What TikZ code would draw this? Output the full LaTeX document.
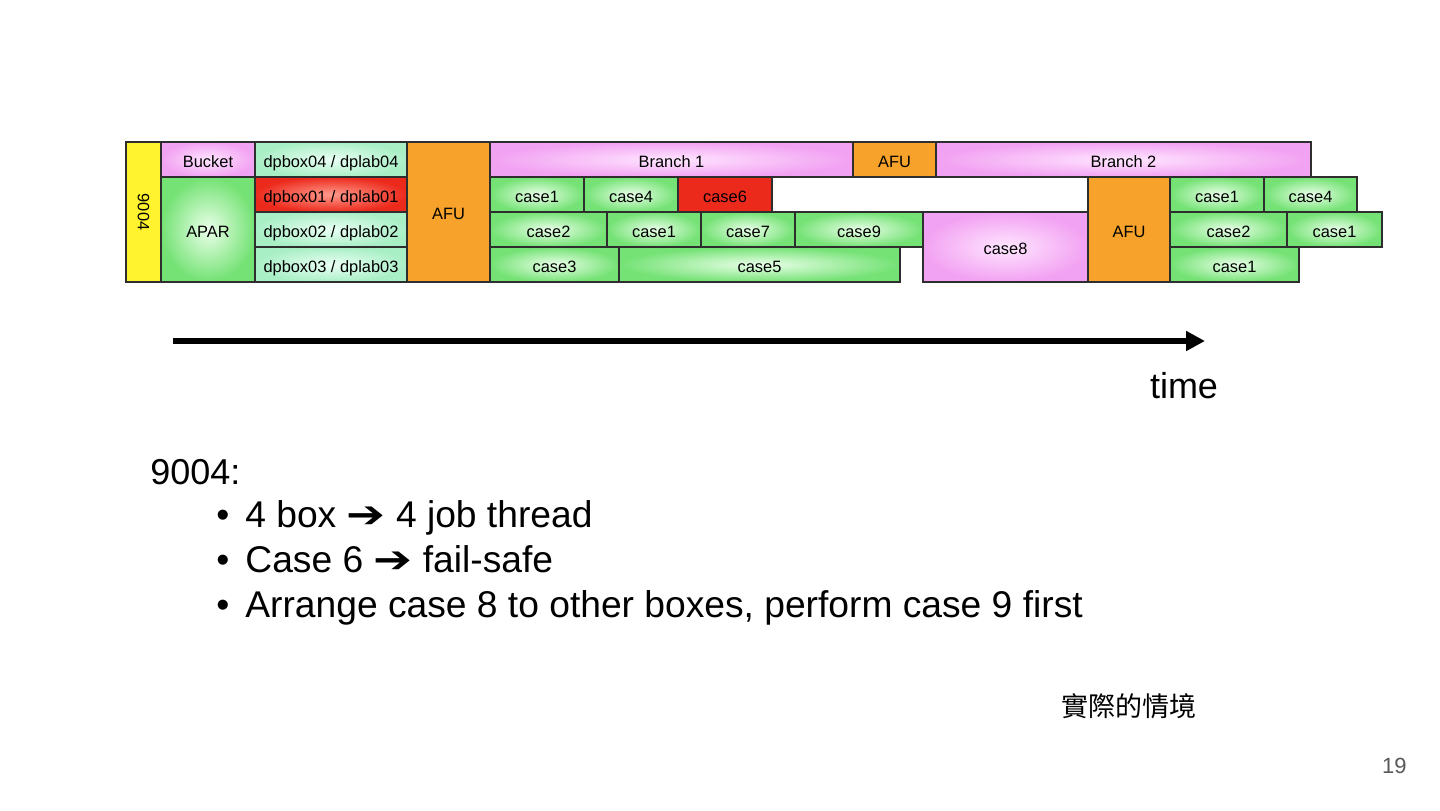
\documentclass[tikz,border=0pt]{standalone}
\usepackage{fontspec}
\usepackage{graphicx}
\setmainfont{Liberation Sans}
\newfontfamily\cjkfont{Noto Sans CJK TC}
\newfontfamily\dingfont{DejaVu Sans}
\usetikzlibrary{positioning,arrows.meta}
\definecolor{edge}{HTML}{2E2E2E}
\definecolor{casegreen}{HTML}{74E274}
\definecolor{casegreenin}{HTML}{EAFFEA}
\definecolor{mint}{HTML}{A9EFC6}
\definecolor{mintin}{HTML}{EAFFF3}
\definecolor{pink}{HTML}{F2A2F2}
\definecolor{pinkin}{HTML}{FFE6FF}
\definecolor{failred}{HTML}{EC2A1C}
\definecolor{failredin}{HTML}{FF9A8C}
\definecolor{afuorange}{HTML}{F7A22B}
\definecolor{srvyellow}{HTML}{FFF22E}
\definecolor{pagegrey}{HTML}{595959}
\tikzset{
  blk/.style={draw=edge, line width=0.8pt, rectangle, anchor=north west,
              inner sep=0pt, outer sep=0pt, minimum height=17.5pt,
              text height=7.9pt, text depth=0pt,
              font=\fontsize{8.2}{9.8}\selectfont, text=black},
  grn/.style={blk, inner color=casegreenin, outer color=casegreen},
  dp/.style={blk, inner color=mintin, outer color=mint, minimum width=76pt},
  pnk/.style={blk, inner color=pinkin, outer color=pink},
  badflat/.style={blk, fill=failred},
  afu/.style={blk, fill=afuorange},
  yel/.style={blk, fill=srvyellow, text height=, text depth=},
  big/.style={anchor=base west, inner sep=0pt, font=\fontsize{18}{21.6}\selectfont},
  bul/.style={big, font=\fontsize{18.6}{22.3}\selectfont},
  timeax/.style={line width=3pt, -{Triangle[length=9.5pt,width=9.5pt]}},
}
\newcommand{\darr}{\scalebox{1.25}[1]{\dingfont ➔}}

\begin{document}
\begin{tikzpicture}[x=0.5pt, y=-0.5pt]
\fill[white] (0,0) rectangle (1440,810);
\useasboundingbox (0,0) rectangle (1440,810);

% --- SETUP ---
\node[yel, minimum width=17.5pt, minimum height=70pt] (srv) at (126,142) {\rotatebox{-90}{9004}};
\node[pnk, minimum width=47pt] (bucket) at (161,142) {Bucket};
\node[grn, minimum width=47pt, minimum height=52.5pt] (apar) at (161,177) {APAR};
\node[dp] (dp04) at (255,142) {dpbox04 / dplab04};
\node[dp, inner color=failredin, outer color=failred] (dp01) [below=0pt of dp04] {dpbox01 / dplab01};
\node[dp] (dp02) [below=0pt of dp01] {dpbox02 / dplab02};
\node[dp] (dp03) [below=0pt of dp02] {dpbox03 / dplab03};
\node[afu, minimum width=41.5pt, minimum height=70pt] (afu1) at (407,142) {AFU};

% --- BRANCH 1 ---
\node[pnk, minimum width=181.5pt] (br1) at (490,142) {Branch 1};
\node[afu, minimum width=41.5pt] (afu2) [right=0pt of br1] {AFU};
\node[pnk, minimum width=187.5pt] (br2) [right=0pt of afu2] {Branch 2};

\node[grn, minimum width=47pt] (a1) at (490,177) {case1};
\node[grn, minimum width=47pt] (a4) [right=0pt of a1] {case4};
\node[badflat, minimum width=47pt] (a6) [right=0pt of a4] {case6};

\node[grn, minimum width=58.5pt] (b2) at (490,212) {case2};
\node[grn, minimum width=47pt] (b1) [right=0pt of b2] {case1};
\node[grn, minimum width=47pt] (b7) [right=0pt of b1] {case7};
\node[grn, minimum width=64pt] (b9) [right=0pt of b7] {case9};

\node[grn, minimum width=64.5pt] (c3) at (490,247) {case3};
\node[grn, minimum width=140.5pt] (c5) [right=0pt of c3] {case5};

% --- BRANCH 2 ---
\node[pnk, minimum width=82.5pt, minimum height=35pt] (case8) at (923,212) {case8};
\node[afu, minimum width=41pt, minimum height=52.5pt] (afu3) at (1088,177) {AFU};

\node[grn, minimum width=47pt] (d1) at (1170,177) {case1};
\node[grn, minimum width=46.5pt] (d4) [right=0pt of d1] {case4};
\node[grn, minimum width=58.5pt] (e2) at (1170,212) {case2};
\node[grn, minimum width=47.5pt] (e1) [right=0pt of e2] {case1};
\node[grn, minimum width=64.5pt] (f1) at (1170,247) {case1};

% --- TIME AXIS ---
\coordinate (t0) at (173,341);
\coordinate (t1) at (1205,341);
\draw[timeax] (t0) -- (t1);
\node[anchor=base, inner sep=0pt, font=\fontsize{18}{21.6}\selectfont] (time) at (1184,398) {time};

% --- NOTES ---
\node[big] (head) at (150,484) {9004:};
\node[bul] (n1) at (245,527) {\llap{\textbullet\hspace{8pt}}4 box \darr{} 4 job thread};
\node[bul] (n2) at (245,572) {\llap{\textbullet\hspace{8pt}}Case 6 \darr{} fail-safe};
\node[bul] (n3) at (245,617) {\llap{\textbullet\hspace{8pt}}Arrange case 8 to other boxes, perform case 9 first};

\node[inner sep=0pt, font=\cjkfont\fontsize{13.5}{16}\selectfont] (cjk) at (1129,706) {實際的情境};
\node[anchor=base east, inner sep=0pt, text=pagegrey, font=\fontsize{11}{13}\selectfont] (page) at (1407,773) {19};

\end{tikzpicture}
\end{document}
